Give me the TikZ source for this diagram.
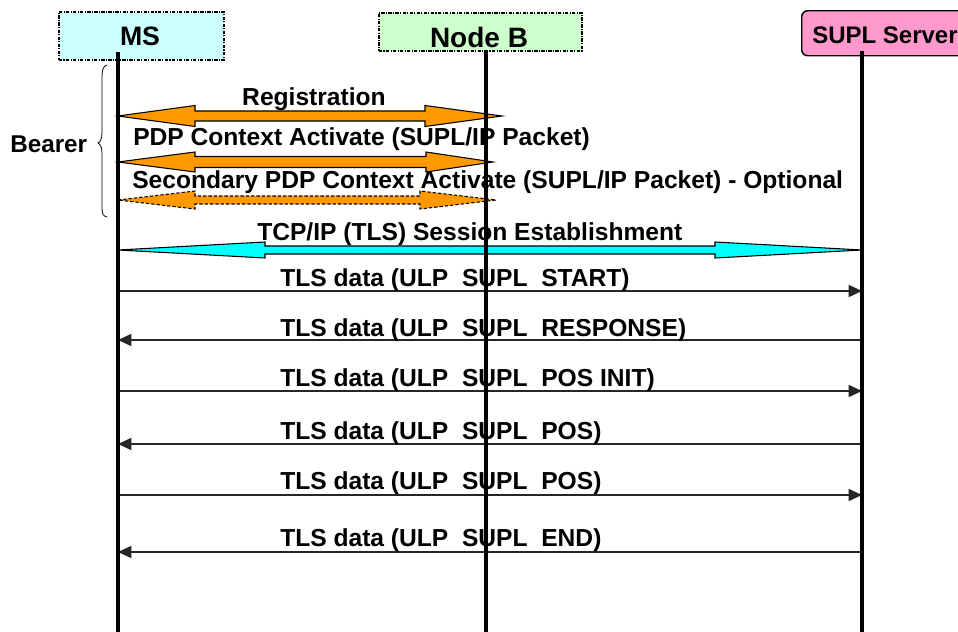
\documentclass[tikz,border=0pt]{standalone}
\usepackage{fontspec}
\setmainfont{Liberation Sans}
\usetikzlibrary{calc,arrows.meta}
\definecolor{msfill}{HTML}{CCFFFF}
\definecolor{nbfill}{HTML}{CCFFCC}
\definecolor{slpfill}{HTML}{FF99CC}
\definecolor{orng}{HTML}{FF9900}
\definecolor{cyn}{HTML}{00FFFF}
\definecolor{msgline}{HTML}{262626}
% #1 style, #2 left tip, #3 right tip, #4 left head length, #5 right head length, #6 head half-height, #7 shaft half-height
\newcommand\blockarrow[7]{%
  \draw[#1] (#2) -- ($(#2)+(#4,-#6)$) -- ($(#2)+(#4,-#7)$) -- ($(#3)+(-#5,-#7)$) -- ($(#3)+(-#5,-#6)$) -- (#3)
    -- ($(#3)+(-#5,#6)$) -- ($(#3)+(-#5,#7)$) -- ($(#2)+(#4,#7)$) -- ($(#2)+(#4,#6)$) -- cycle;}
\begin{document}
\begin{tikzpicture}[x=0.75pt,y=-0.75pt,
  hdrbox/.style={draw=black,line width=1.2pt,dash pattern=on 2.5pt off 1pt on 0.8pt off 1pt,inner sep=0pt,anchor=north west},
  srvbox/.style={draw=black,line width=1.1pt,rounded corners=4.5pt,inner sep=0pt,anchor=north west},
  lifeline/.style={line width=2.3pt},
  lbl/.style={font=\fontsize{18.45}{22}\selectfont\bfseries,inner sep=0pt},
  msg/.style={draw=msgline,line width=1.2pt,-{Triangle[length=10pt,width=9pt]}},
  orangearrow/.style={draw=black,line width=0.8pt,fill=orng},
  optarrow/.style={draw=black,line width=0.8pt,fill=orng,dash pattern=on 2.5pt off 1.5pt},
  cyanarrow/.style={draw=black,line width=0.8pt,fill=cyn},
  bracestyle/.style={draw=black,line width=0.6pt}
]
\useasboundingbox (0,0) rectangle (958,632);
\fill[white] (0,0) rectangle (958,632);

% header boxes
\node[hdrbox,fill=msfill,minimum width=123.75pt,minimum height=36pt] (msbox) at (58,11) {};
\node[hdrbox,fill=nbfill,minimum width=152.25pt,minimum height=28.5pt] (nbbox) at (378,12) {};
\begin{scope}
  \clip (0,0) rectangle (958,632);
  \node[srvbox,fill=slpfill,minimum width=135pt,minimum height=33.75pt] (slpbox) at (801,10) {};
\end{scope}
\node[lbl,font=\fontsize{20}{24}\selectfont\bfseries,anchor=base] (mslbl) at (140,45) {MS};
\node[lbl,font=\fontsize{21}{25}\selectfont\bfseries,anchor=base] (nblbl) at (479,47) {Node B};
\node[lbl,font=\fontsize{18}{22}\selectfont\bfseries,anchor=base west] (slplbl) at (812,43) {SUPL Server};

% lifeline end points
\coordinate (mstop) at (118,52);  \coordinate (msbot) at (118,632);
\coordinate (nbtop) at (486,50);  \coordinate (nbbot) at (486,632);
\coordinate (sltop) at (862,51);  \coordinate (slbot) at (862,632);

% bearer brace
\node[lbl,font=\fontsize{18.2}{22}\selectfont\bfseries,anchor=base west] (bearer) at (10,152) {Bearer};
\draw[bracestyle] (107,65) .. controls (103,66) and (102,70) .. (102,78) -- (102,133)
  .. controls (102,139) and (100,142) .. (98,143) .. controls (100,144) and (102,147) .. (102,153)
  -- (102,208) .. controls (102,214) and (103,216) .. (107,217);

% bearer block arrows
\coordinate (regL) at (118,116); \coordinate (regR) at (502,116);
\coordinate (pdpL) at (118,162); \coordinate (pdpR) at (493,162);
\coordinate (secL) at (118,200); \coordinate (secR) at (496,200);
\coordinate (tcpL) at (118,250); \coordinate (tcpR) at (862,250);
\blockarrow{orangearrow}{regL}{regR}{77}{77}{10.5}{5}
\blockarrow{orangearrow}{pdpL}{pdpR}{77}{67}{10}{5.5}
\blockarrow{optarrow}{secL}{secR}{77}{76}{9}{4}
\blockarrow{cyanarrow}{tcpL}{tcpR}{147}{147}{8}{4}

\node[lbl,anchor=base] (reglbl) at (314,105) {Registration};
\node[lbl,anchor=base west] (pdplbl) at (133,145) {PDP Context Activate (SUPL/IP Packet)};
\node[lbl,anchor=base west] (seclbl) at (132,188) {Secondary PDP Context Activate (SUPL/IP Packet) - Optional};
\node[lbl,anchor=base west] (tcplbl) at (257,240) {TCP/IP (TLS) Session Establishment};

% TLS data messages
\coordinate (m1L) at (118,291); \coordinate (m1R) at (862,291);
\coordinate (m2L) at (118,340); \coordinate (m2R) at (862,340);
\coordinate (m3L) at (118,391); \coordinate (m3R) at (862,391);
\coordinate (m4L) at (118,444); \coordinate (m4R) at (862,444);
\coordinate (m5L) at (118,495); \coordinate (m5R) at (862,495);
\coordinate (m6L) at (118,552); \coordinate (m6R) at (862,552);
\draw[msg] (m1L) -- (m1R);
\draw[msg] (m2R) -- (m2L);
\draw[msg] (m3L) -- (m3R);
\draw[msg] (m4R) -- (m4L);
\draw[msg] (m5L) -- (m5R);
\draw[msg] (m6R) -- (m6L);
\node[lbl,anchor=base west] (m1lbl) at (280,286) {TLS data (ULP\ \ SUPL\ \ START)};
\node[lbl,anchor=base west] (m2lbl) at (280,336) {TLS data (ULP\ \ SUPL\ \ RESPONSE)};
\node[lbl,anchor=base west] (m3lbl) at (280,386) {TLS data (ULP\ \ SUPL\ \ POS INIT)};
\node[lbl,anchor=base west] (m4lbl) at (280,439) {TLS data (ULP\ \ SUPL\ \ POS)};
\node[lbl,anchor=base west] (m5lbl) at (280,489) {TLS data (ULP\ \ SUPL\ \ POS)};
\node[lbl,anchor=base west] (m6lbl) at (280,546) {TLS data (ULP\ \ SUPL\ \ END)};

% lifelines on top
\draw[lifeline] (mstop) -- (msbot);
\draw[lifeline] (nbtop) -- (nbbot);
\draw[lifeline] (sltop) -- (slbot);
\end{tikzpicture}
\end{document}
